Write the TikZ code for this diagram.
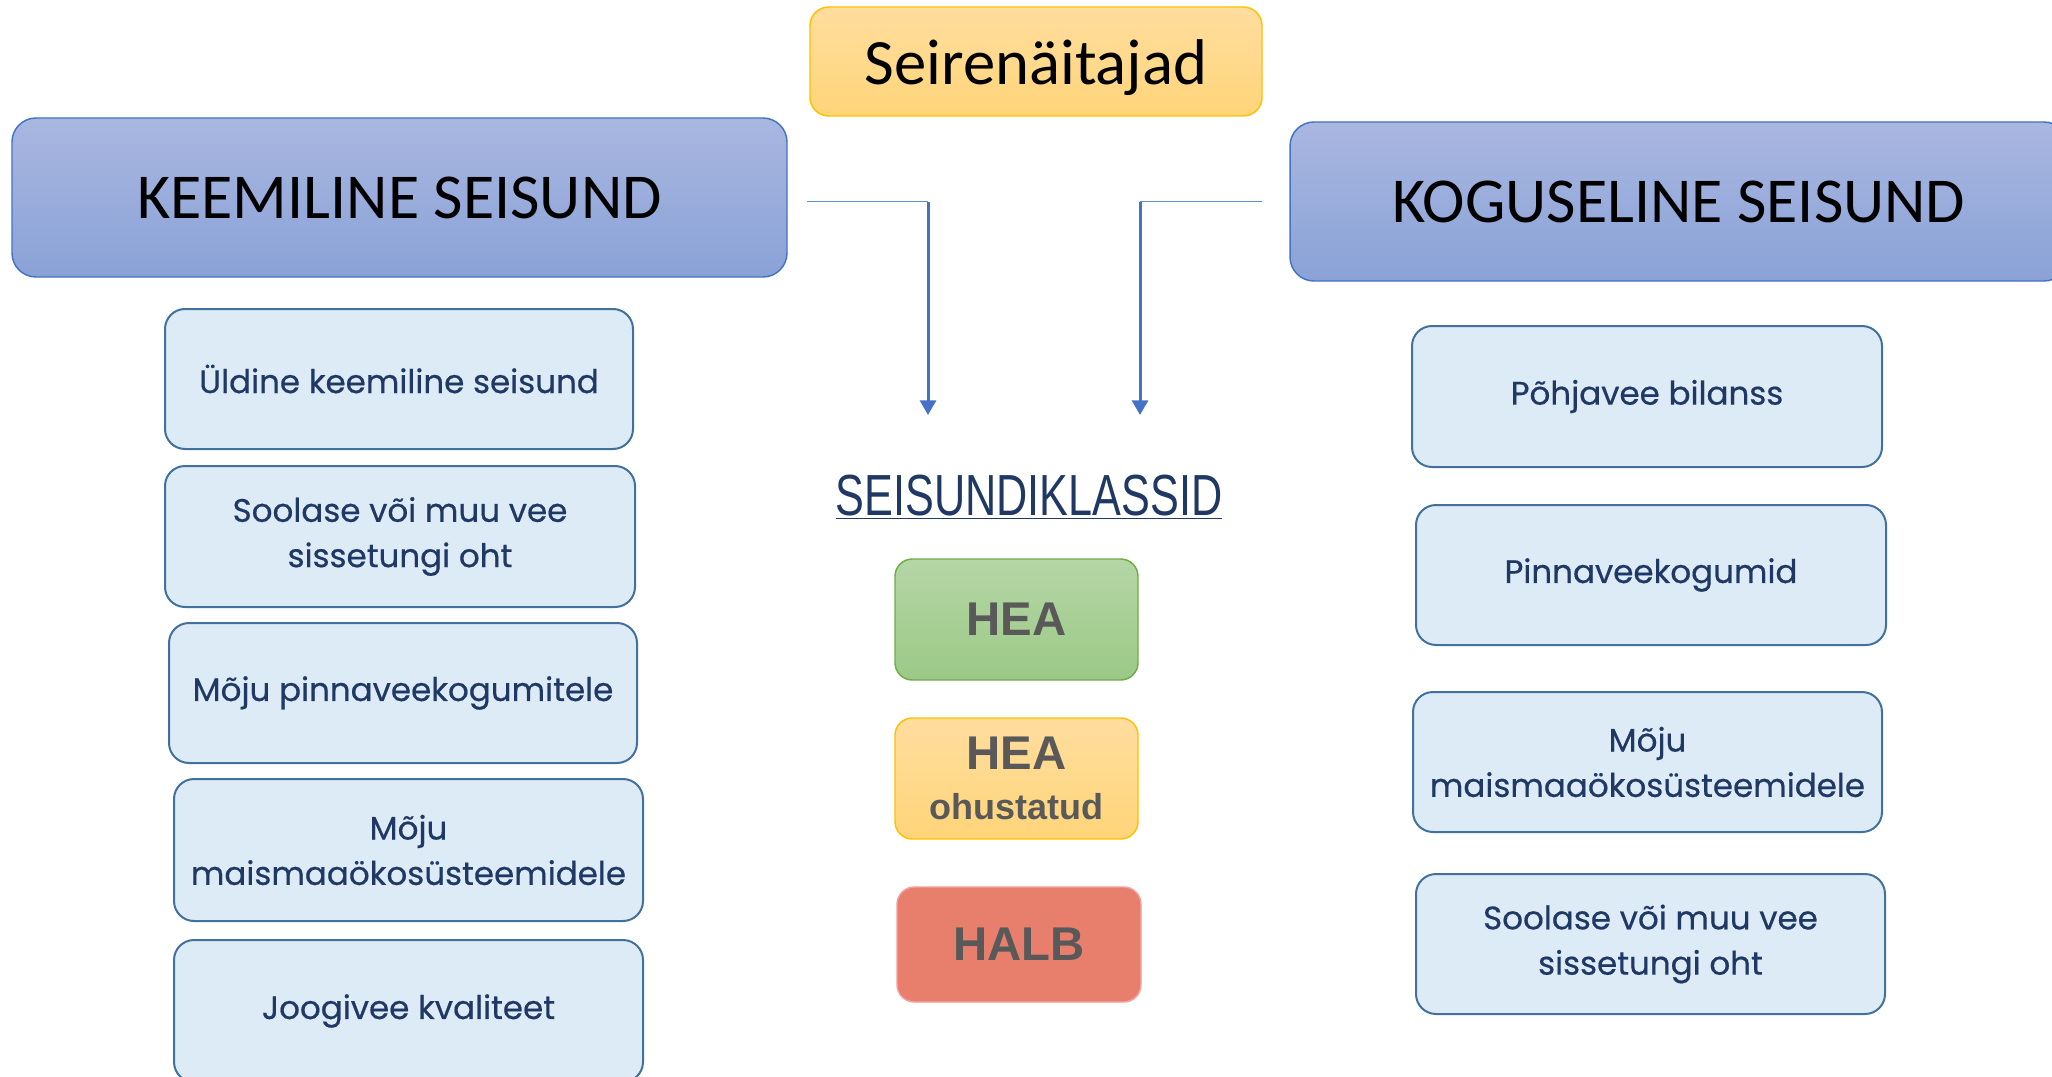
\documentclass[tikz,border=0pt]{standalone}
\usepackage{fontspec}
\setmainfont{Carlito}
\newfontfamily\boxfont{Poppins}[FakeBold=0.5]
\newfontfamily\arialf{Liberation Sans}
\newfontfamily\narrowf{Liberation Sans}[FakeStretch=0.745]
\usetikzlibrary{arrows.meta}
\definecolor{hdtop}{HTML}{A9B7E0}
\definecolor{hdbot}{HTML}{8AA2D7}
\definecolor{hdline}{HTML}{4472C4}
\definecolor{ytop}{HTML}{FFDD9E}
\definecolor{ybot}{HTML}{FFD57A}
\definecolor{yline}{HTML}{FFC000}
\definecolor{boxfill}{HTML}{DDEBF7}
\definecolor{boxline}{HTML}{41719C}
\definecolor{navy}{HTML}{1F3864}
\definecolor{gtop}{HTML}{B5D6A6}
\definecolor{gbot}{HTML}{9CC987}
\definecolor{gline}{HTML}{70AD47}
\definecolor{halbfill}{HTML}{E87E6C}
\definecolor{halbline}{HTML}{F4A09C}
\definecolor{txtgray}{HTML}{595959}
\definecolor{conn}{HTML}{4472C4}
\definecolor{connlight}{HTML}{5B8FD6}
\tikzset{
  sz/.style 2 args={minimum width=#1*0.75pt, minimum height=#2*0.75pt},
  header/.style={draw=hdline, line width=1.1pt, rounded corners=18pt,
    top color=hdtop, bottom color=hdbot, inner sep=0pt, text=black,
    font=\fontsize{48}{56}\selectfont},
  title/.style={draw=yline, line width=1.1pt, rounded corners=14pt,
    top color=ytop, bottom color=ybot, inner sep=0pt, text=black,
    font=\fontsize{48.5}{56}\selectfont},
  item/.style={draw=boxline, line width=1.5pt, fill=boxfill, rounded corners=15pt,
    inner sep=0pt, text=navy, align=center,
    font=\boxfont\fontsize{24.4}{34}\selectfont},
  cls/.style={line width=1.1pt, rounded corners=13pt, inner sep=0pt,
    text=txtgray, align=center, font=\arialf\bfseries\fontsize{35.5}{36}\selectfont},
  link/.style={connlight, line width=1.1pt},
  drop/.style={conn, line width=2.25pt, -{Triangle[width=12pt,length=11pt]}}
}
\begin{document}
\begin{tikzpicture}[x=0.75pt,y=-0.75pt]
\useasboundingbox (0,0) rectangle (2052,1077);
\clip (0,0) rectangle (2052,1077);
% headers
\node[title, sz={452}{109}, text height=44pt, text depth=10pt] (title) at (1036,61.5) {Seirenäitajad};
\node[header, sz={775}{159}] (keem) at (399.5,197.5) {KEEMILINE SEISUND};
\node[header, sz={778}{159}] (kogu) at (1679,201.5) {KOGUSELINE SEISUND};
% connectors
\coordinate (lh) at (807,201.7);
\coordinate (lc) at (928,201.7);
\coordinate (lt) at (928,415);
\coordinate (rh) at (1262,201.7);
\coordinate (rc) at (1140,201.7);
\coordinate (rt) at (1140,415);
\draw[link] (lh) -- (lc);
\draw[drop] (lc) -- (lt);
\draw[link] (rh) -- (rc);
\draw[drop] (rc) -- (rt);
% left column
\node[item, sz={468}{140}] (l1) at (399,379) {Üldine keemiline seisund};
\node[item, sz={470}{141}] (l2) at (400,536.5) {Soolase või muu vee\\sissetungi oht};
\node[item, sz={468}{140}] (l3) at (403,693) {Mõju pinnaveekogumitele};
\node[item, sz={469}{142}] (l4) at (408.5,850) {Mõju\\maismaaökosüsteemidele};
\node[item, sz={469}{142}] (l5) at (408.5,1011) {Joogivee kvaliteet};
% right column
\node[item, sz={470}{141}] (r1) at (1647,396.5) {Põhjavee bilanss};
\node[item, sz={470}{140}] (r2) at (1651,575) {Pinnaveekogumid};
\node[item, sz={469}{140}] (r3) at (1647.5,762) {Mõju\\maismaaökosüsteemidele};
\node[item, sz={469}{140}] (r4) at (1650.5,944) {Soolase või muu vee\\sissetungi oht};
% classes
\node[text=navy, font=\narrowf\fontsize{43.5}{50}\selectfont, inner sep=0pt] (sk) at (1029,497) {\underline{SEISUNDIKLASSID}};
\node[cls, draw=gline, top color=gtop, bottom color=gbot, sz={243}{121}] (hea) at (1016.5,619.5) {HEA};
\node[cls, draw=yline, top color=ytop, bottom color=ybot, sz={243}{121}] (heao) at (1016.5,778.5) {HEA\\[1pt]{\fontsize{27}{30}\selectfont ohustatud}};
\node[cls, draw=halbline, fill=halbfill, sz={244}{115}] (halb) at (1019,944.5) {HALB};
\end{tikzpicture}
\end{document}
